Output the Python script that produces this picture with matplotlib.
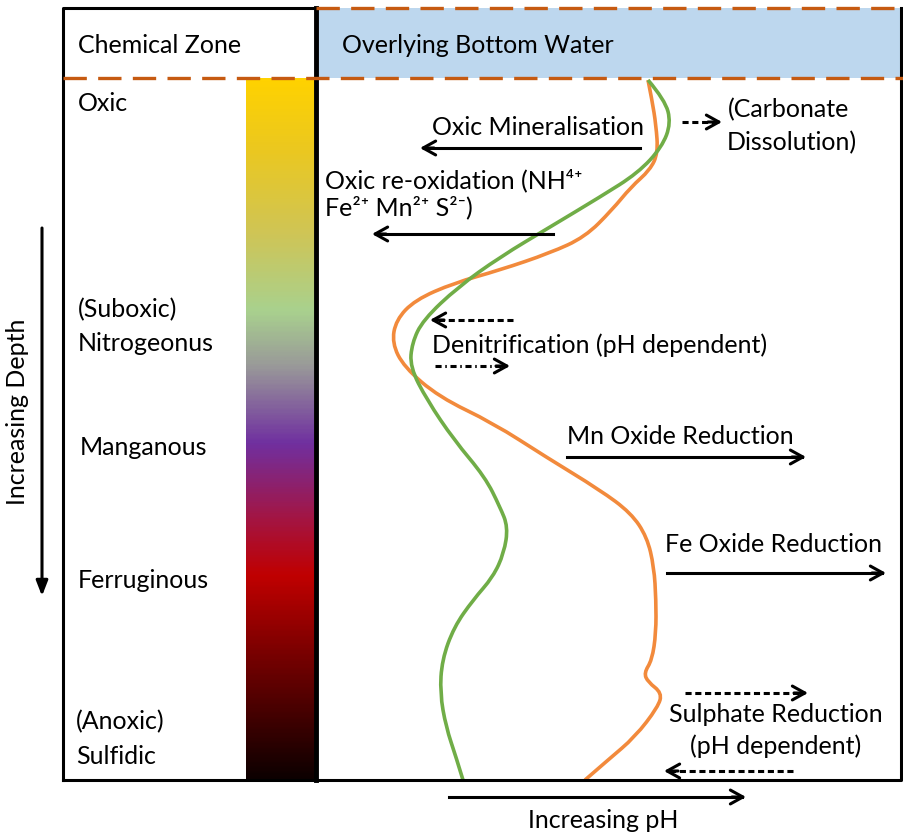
import matplotlib
matplotlib.use("Agg")
import matplotlib.pyplot as plt
import numpy as np
from matplotlib.colors import LinearSegmentedColormap
from matplotlib.patches import Rectangle, PathPatch
from matplotlib.path import Path

plt.rcParams['font.family'] = ['Lato', 'DejaVu Sans']

# curves (pixel coords, y downwards)
orange_x = [648, 652, 656, 658, 650, 631, 612, 585, 550, 500, 454, 415, 396, 392, 404, 439, 493,
            546, 600, 631, 647, 654, 656, 656, 652, 644, 648, 662, 658, 635, 608, 585]
orange_y = [80, 100, 125, 153, 170, 187, 210, 237, 253, 270, 283, 300, 320, 343, 367, 397, 423,
            457, 490, 513, 537, 567, 600, 633, 660, 673, 682, 693, 707, 737, 760, 780]
green_x = [648, 665, 671, 662, 638, 600, 550, 500, 458, 423, 412, 410, 427, 454, 485, 500,
           508, 504, 493, 473, 454, 442, 440, 446, 456, 463]
green_y = [80, 100, 123, 147, 173, 197, 227, 257, 287, 320, 343, 367, 400, 440, 477, 507,
           527, 553, 577, 600, 627, 660, 693, 727, 757, 780]

# colour bar stops (fraction down the bar, colour)
bar_stops = [0.0, 0.10, 0.22, 0.33, 0.41, 0.52, 0.62, 0.71, 0.82, 1.0]
bar_colors = ['#FFD200', '#EBC820', '#CFC556', '#A9D18E', '#999999', '#7030A0',
              '#A0174A', '#C00000', '#7A0000', '#0D0000']

zone_labels = ['Oxic', '(Suboxic)', 'Nitrogeonus', 'Manganous', 'Ferruginous', '(Anoxic)', 'Sulfidic']
zone_x = [78, 78, 78, 80, 78, 76, 76]
zone_y = [103, 310, 343, 447, 580, 722, 756]

fig = plt.figure(figsize=(9.04, 8.33), dpi=100)
ax = fig.add_axes([0, 0, 1, 1])
ax.set_xlim(0, 904)
ax.set_ylim(833, 0)
ax.axis('off')

L, R, T, B, D = 63, 901, 8, 780, 316
ORG = '#C65A11'

# bottom water
ax.add_patch(Rectangle((D, T), R - D, 78 - T, facecolor='#BDD7EE', edgecolor='none', zorder=0))

# colour bar
cmap = LinearSegmentedColormap.from_list('zones', list(zip(bar_stops, bar_colors)))
grad = np.linspace(0, 1, 400).reshape(-1, 1)
ax.imshow(grad, cmap=cmap, aspect='auto', extent=[246, D, B, 78], zorder=1)

# box
ax.plot([L, L, D, D, L], [B, T, T, B, B], color='k', lw=2.2, zorder=5, solid_capstyle='projecting')
ax.plot([D, R, R], [B, B, T], color='k', lw=2.2, zorder=5, solid_capstyle='projecting')
ax.plot([D, D], [T, B], color='k', lw=3.5, zorder=6)
ax.plot([D, 904], [T, T], color=ORG, lw=2.4, dashes=(7, 3.4), zorder=6)
ax.plot([L, 904], [78, 78], color=ORG, lw=2.4, dashes=(7, 3.4), zorder=6)


def smooth_curve(xs, ys, color):
    # quadratic b-spline through the read points as control points
    p = np.column_stack([xs, ys]).astype(float)
    verts = [p[0]]
    codes = [Path.MOVETO]
    for i in range(1, len(p) - 1):
        mid = (p[i] + p[i + 1]) / 2 if i < len(p) - 2 else p[i + 1]
        verts += [p[i], mid]
        codes += [Path.CURVE3, Path.CURVE3]
    ax.add_patch(PathPatch(Path(verts, codes), fill=False, edgecolor=color, lw=2.6,
                           zorder=3, capstyle='butt'))


smooth_curve(orange_x, orange_y, '#F28A3C')
smooth_curve(green_x, green_y, '#70AD47')

fs = 18
ax.text(78, 45, 'Chemical Zone', fontsize=fs, va='center')
ax.text(342, 45, 'Overlying Bottom Water', fontsize=fs, va='center')
for lab, x, y in zip(zone_labels, zone_x, zone_y):
    ax.text(x, y, lab, fontsize=fs, va='center')


def arrow(x0, x1, y, ls='-'):
    d = 1 if x1 > x0 else -1
    ax.plot([x0, x1 - d * 4], [y, y], color='k', lw=2.2, linestyle=ls, zorder=4)
    ax.annotate('', xy=(x1, y), xytext=(x1 - d * 14, y),
                arrowprops=dict(arrowstyle='->,head_length=0.9,head_width=0.5',
                                lw=2.2, color='k', shrinkA=0, shrinkB=0), zorder=4)


dash = (0, (2, 1.2))
ax.text(432, 127, 'Oxic Mineralisation', fontsize=fs, va='center')
arrow(640, 420, 148)
arrow(682, 722, 122, dash)
ax.text(728, 110, '(Carbonate', fontsize=fs, va='center')
ax.text(727, 143, 'Dissolution)', fontsize=fs, va='center')

ax.text(325, 180, 'Oxic re-oxidation (NH⁴⁺', fontsize=fs, va='center')
ax.text(325, 207, 'Fe²⁺ Mn²⁺ S²⁻)', fontsize=fs, va='center')
arrow(553, 372, 234)

arrow(513, 430, 320, dash)
ax.text(432, 345, 'Denitrification (pH dependent)', fontsize=fs, va='center')
arrow(435, 510, 366, (0, (2, 1.2, 0.5, 1.2)))

ax.text(567, 436, 'Mn Oxide Reduction', fontsize=fs, va='center')
arrow(567, 806, 457)
ax.text(665, 545, 'Fe Oxide Reduction', fontsize=fs, va='center')
arrow(667, 886, 573)

arrow(685, 808, 693, dash)
ax.text(776, 715, 'Sulphate Reduction', fontsize=fs, va='center', ha='center')
ax.text(776, 746, '(pH dependent)', fontsize=fs, va='center', ha='center')
arrow(793, 664, 771, dash)

arrow(449, 746, 797)
ax.text(603, 820, 'Increasing pH', fontsize=fs, va='center', ha='center')

ax.annotate('', xy=(42, 596), xytext=(42, 228),
            arrowprops=dict(arrowstyle='-|>,head_length=0.9,head_width=0.35',
                            lw=2.2, color='k', shrinkA=0, shrinkB=0))
ax.text(18, 412, 'Increasing Depth', fontsize=fs, rotation=90, va='center', ha='center')

fig.savefig('out.png', dpi=100)
